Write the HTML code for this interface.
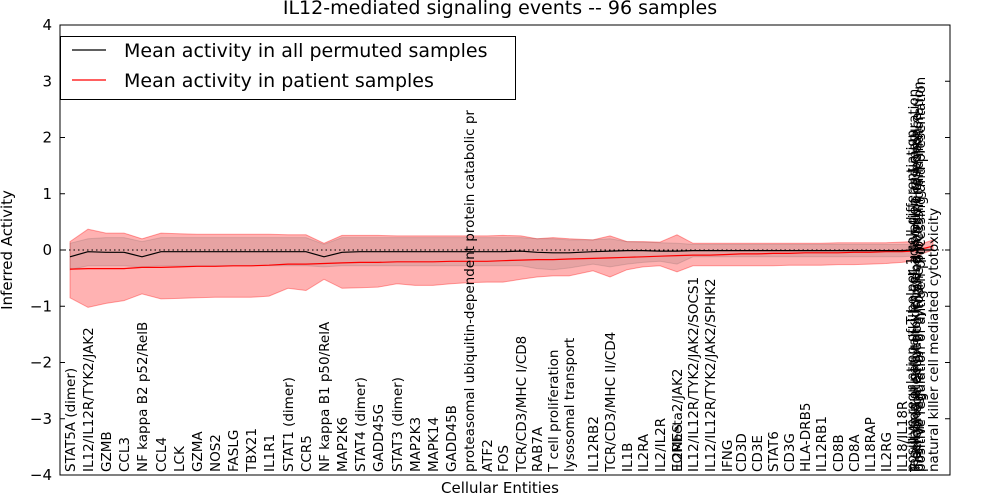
<!DOCTYPE html>
<html><head><meta charset="utf-8">
<style>
html,body{margin:0;padding:0;background:#fff;}
svg{display:block;font-family:"DejaVu Sans","Liberation Sans",sans-serif;}
</style></head>
<body>
<svg id="chart" width="1000" height="500" viewBox="0 0 1000 500" xmlns="http://www.w3.org/2000/svg">
<rect x="0" y="0" width="1000" height="500" fill="#fff"/>
<g id="bands"></g>
<g id="lines"></g>
<g id="xlabels"></g>
<g id="yaxis"></g>
<rect x="60" y="25" width="890" height="450" fill="none" stroke="#000" stroke-width="1"/>
<text x="500" y="14" text-anchor="middle" font-size="19">IL12-mediated signaling events -- 96 samples</text>
<text x="500" y="493" text-anchor="middle" font-size="15">Cellular Entities</text>
<text transform="translate(12,250) rotate(-90)" text-anchor="middle" font-size="15">Inferred Activity</text>
<g>
<rect x="60.5" y="36.5" width="455" height="63" fill="#fff" stroke="#000" stroke-width="1"/>
<line x1="72" y1="50" x2="106" y2="50" stroke="#000" stroke-width="1.2"/>
<text x="124" y="57" font-size="19">Mean activity in all permuted samples</text>
<line x1="72" y1="80" x2="106" y2="80" stroke="#f00" stroke-width="1.2"/>
<text x="124" y="87" font-size="19">Mean activity in patient samples</text>
</g>
</svg>
<script>
const labels = ["STAT5A (dimer)","IL12/IL12R/TYK2/JAK2","GZMB","CCL3","NF kappa B2 p52/RelB","CCL4","LCK","GZMA","NOS2","FASLG","TBX21","IL1R1","STAT1 (dimer)","CCR5","NF kappa B1 p50/RelA","MAP2K6","STAT4 (dimer)","GADD45G","STAT3 (dimer)","MAP2K3","MAPK14","GADD45B","proteasomal ubiquitin-dependent protein catabolic pr","ATF2","FOS","TCR/CD3/MHC I/CD8","RAB7A","T cell proliferation","lysosomal transport","IL12RB2","TCR/CD3/MHC II/CD4","IL1B","IL2RA","IL2/IL2R","IL2Rbeta2/JAK2","EOMES","IL12/IL12R/TYK2/JAK2/SOCS1","IL12/IL12R/TYK2/JAK2/SPHK2","IFNG","CD3D","CD3E","STAT6","CD3G","HLA-DRB5","IL12RB1","CD8B","CD8A","IL18RAP","IL2RG","IL18/IL18R","positive regulation of T-helper 1 cell differentiation","regulation of natural killer cell activation and maturation","T cell mediated cytotoxicity and immune response","macrophage activation involved in immune response","positive regulation of cytokine processing and maturation","positive regulation of antigen processing and presentation","natural killer cell mediated cytotoxicity"];
const positions = [10,28,46,64,82,101,119,137,155,173,191,209,228,246,264,282,300,318,337,355,373,391,409,427,443,461,477,493,509,533,550,567,583,600,617,617,633,650,667,681,697,713,729,745,761,778,794,810,826,842,851,853,855,856,858,860,873];
const permutedMean = [-0.12,-0.03,-0.04,-0.04,-0.12,-0.03,-0.03,-0.03,-0.03,-0.03,-0.03,-0.03,-0.03,-0.03,-0.12,-0.04,-0.03,-0.03,-0.03,-0.03,-0.03,-0.03,-0.03,-0.03,-0.03,-0.02,-0.04,-0.05,-0.05,-0.03,-0.02,-0.01,-0.01,-0.02,-0.02,-0.02,-0.01,-0.01,-0.01,-0.01,-0.01,-0.01,-0.01,-0.01,-0.01,-0.01,-0.01,-0.01,-0.01,-0.01,0,0,0,0,0,0,0];
const patientMean = [-0.34,-0.33,-0.33,-0.33,-0.31,-0.31,-0.30,-0.29,-0.29,-0.28,-0.28,-0.27,-0.25,-0.25,-0.24,-0.23,-0.22,-0.22,-0.21,-0.21,-0.21,-0.20,-0.20,-0.20,-0.19,-0.18,-0.17,-0.17,-0.16,-0.15,-0.14,-0.13,-0.12,-0.11,-0.10,-0.10,-0.09,-0.09,-0.08,-0.07,-0.07,-0.06,-0.06,-0.05,-0.05,-0.05,-0.04,-0.04,-0.03,-0.03,-0.02,-0.02,-0.01,-0.01,0,0.01,0.07];
const patientUpper = [0.15,0.37,0.30,0.30,0.20,0.30,0.29,0.28,0.28,0.28,0.28,0.28,0.27,0.27,0.12,0.26,0.26,0.26,0.25,0.25,0.25,0.25,0.25,0.25,0.26,0.25,0.20,0.22,0.20,0.18,0.25,0.15,0.15,0.14,0.27,0.27,0.12,0.12,0.12,0.12,0.12,0.12,0.12,0.12,0.12,0.13,0.13,0.13,0.13,0.14,0.15,0.15,0.14,0.13,0.12,0.10,0.18];
const patientLower = [-0.85,-1.02,-0.95,-0.90,-0.78,-0.87,-0.86,-0.85,-0.84,-0.84,-0.84,-0.82,-0.68,-0.72,-0.52,-0.68,-0.67,-0.66,-0.60,-0.63,-0.63,-0.60,-0.58,-0.57,-0.57,-0.52,-0.48,-0.46,-0.46,-0.37,-0.48,-0.35,-0.30,-0.28,-0.39,-0.39,-0.28,-0.28,-0.28,-0.28,-0.28,-0.28,-0.27,-0.27,-0.27,-0.26,-0.26,-0.25,-0.24,-0.22,-0.20,-0.18,-0.16,-0.14,-0.12,-0.08,0];
const permutedUpper = [0.12,0.20,0.22,0.22,0.15,0.22,0.22,0.22,0.22,0.22,0.22,0.22,0.22,0.22,0.10,0.22,0.22,0.22,0.22,0.22,0.22,0.22,0.22,0.22,0.22,0.22,0.20,0.20,0.18,0.18,0.20,0.15,0.14,0.13,0.12,0.12,0.10,0.10,0.10,0.10,0.10,0.10,0.10,0.10,0.10,0.10,0.10,0.10,0.10,0.10,0.10,0.10,0.10,0.09,0.08,0.06,0];
const permutedLower = [-0.35,-0.28,-0.28,-0.28,-0.30,-0.28,-0.28,-0.28,-0.28,-0.28,-0.28,-0.28,-0.28,-0.28,-0.30,-0.28,-0.28,-0.28,-0.28,-0.28,-0.28,-0.28,-0.28,-0.28,-0.28,-0.28,-0.33,-0.35,-0.32,-0.25,-0.30,-0.25,-0.22,-0.20,-0.25,-0.25,-0.12,-0.12,-0.12,-0.12,-0.12,-0.12,-0.12,-0.12,-0.12,-0.12,-0.12,-0.12,-0.12,-0.12,-0.11,-0.11,-0.10,-0.10,-0.09,-0.07,0];
const yTicks = [4,3,2,1,0,-1,-2,-3,-4];

const NS = "http://www.w3.org/2000/svg";
const X0 = 60, X1 = 950, Y0 = 25, Y1 = 475;
const xDomain = [0, 890], yDomain = [-4, 4];
function xs(v){ return X0 + (v - xDomain[0]) / (xDomain[1] - xDomain[0]) * (X1 - X0); }
function ys(v){ return Y1 - (v - yDomain[0]) / (yDomain[1] - yDomain[0]) * (Y1 - Y0); }
function mk(tag, attrs, parent){ const e = document.createElementNS(NS, tag); for (const k in attrs) e.setAttribute(k, attrs[k]); parent.appendChild(e); return e; }

function bandPath(up, lo){
  let d = "";
  positions.forEach((p,i)=>{ d += (i?"L":"M") + xs(p).toFixed(1) + "," + ys(up[i]).toFixed(1); });
  for (let i = positions.length-1; i>=0; i--) d += "L" + xs(positions[i]).toFixed(1) + "," + ys(lo[i]).toFixed(1);
  return d + "Z";
}
function linePath(vals){
  return positions.map((p,i)=>(i?"L":"M") + xs(p).toFixed(1) + "," + ys(vals[i]).toFixed(1)).join("");
}
const bands = document.getElementById("bands");
const pb = mk("path", {d: bandPath(patientUpper, patientLower), fill: "rgba(255,0,0,0.3)", stroke: "rgba(255,0,0,0.35)", "stroke-width": "1"}, bands);


const gb = mk("path", {d: bandPath(permutedUpper, permutedLower), fill: "rgba(60,60,60,0.12)", stroke: "rgba(60,60,60,0.15)", "stroke-width": "1"}, bands);



const lines = document.getElementById("lines");
const zl = mk("line", {x1: X0, x2: X1, y1: ys(0), y2: ys(0), stroke: "#000", "stroke-width": "1", "stroke-dasharray": "1.5,3"}, lines);


const rl = mk("path", {d: linePath(patientMean), fill: "none", stroke: "#f00", "stroke-width": "1.2"}, lines);


const bl = mk("path", {d: linePath(permutedMean), fill: "none", stroke: "#000", "stroke-width": "1.2"}, lines);



const xl = document.getElementById("xlabels");
labels.forEach((t,i)=>{
  const x = xs(positions[i]) + 5;
  const e = mk("text", {transform: "translate(" + x.toFixed(1) + ",472) rotate(-90)", "font-size": "13.5", fill: "#000"}, xl);
  e.textContent = t;
  
  
});

const ya = document.getElementById("yaxis");
yTicks.forEach(v=>{
  const y = ys(v);
  const t1 = mk("line", {x1: X0, x2: X0+5, y1: y, y2: y, stroke: "#000", "stroke-width": "1"}, ya);
  
  
  const t2 = mk("line", {x1: X1-5, x2: X1, y1: y, y2: y, stroke: "#000", "stroke-width": "1"}, ya);
  
  
  const lb = mk("text", {x: X0-8, y: y+5, "text-anchor": "end", "font-size": "15", fill: "#000"}, ya);
  lb.textContent = v < 0 ? "\u2212" + Math.abs(v) : String(v);
  
  
});
</script>
</body></html>
